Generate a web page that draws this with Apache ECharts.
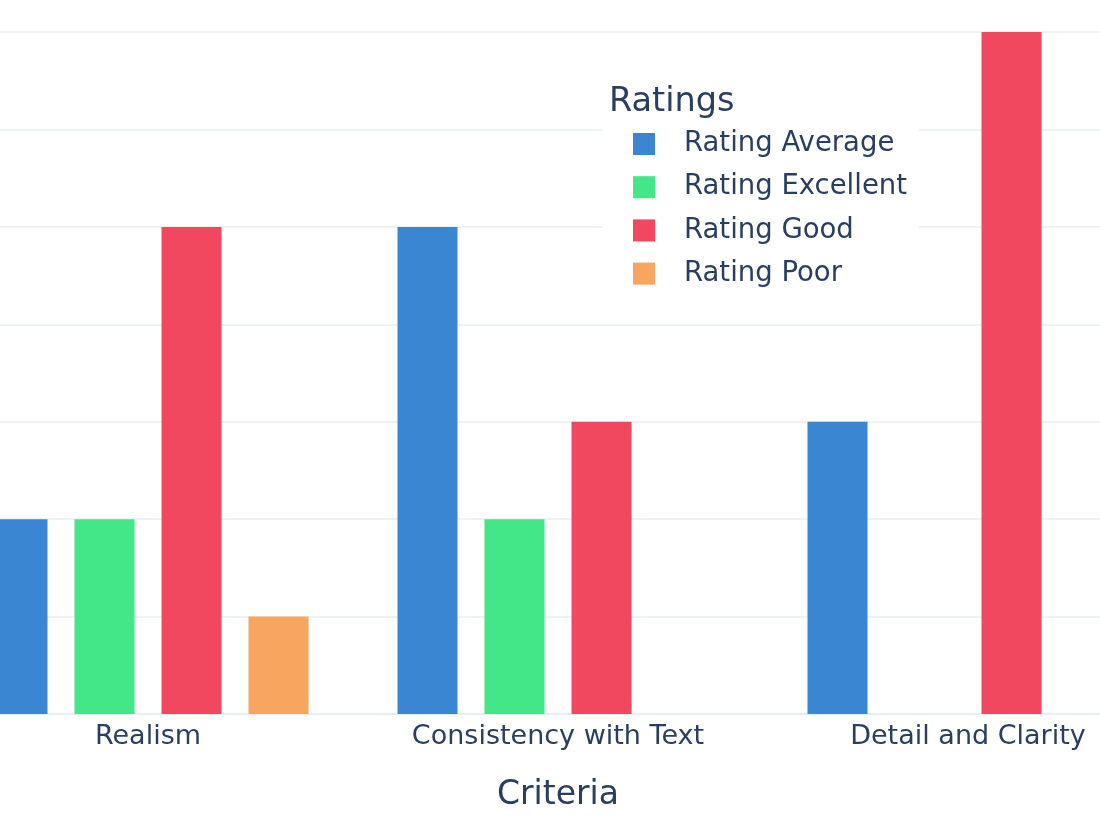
<!DOCTYPE html>
<html>
<head>
<meta charset="utf-8">
<script src="https://cdn.jsdelivr.net/npm/echarts@6/dist/echarts.min.js"></script>
<style>
  html, body { margin: 0; padding: 0; background: #fff; overflow: hidden; }
  /* the plot runs past the window edges, so the chart box is bigger and shifted */
  #main { position: absolute; left: -100px; top: -20px; width: 1300px; height: 865px; }
</style>
</head>
<body>
<div id="main"></div>
<script>
// data
var criteria = ['Realism', 'Consistency with Text', 'Detail and Clarity'];
var ratingAverage = [2, 5, 3];
var ratingExcellent = [2, 2, '-'];
var ratingGood = [5, 3, 7];
var ratingPoor = [1, '-', '-'];
var seriesNames = ['Rating Average', 'Rating Excellent', 'Rating Good', 'Rating Poor'];
var colors = ['#3a86d2', '#43e788', '#f2485f', '#f8a65f'];

var font = 'DejaVu Sans';
var textColor = '#2a3f5f';

var myChart = echarts.init(document.getElementById('main'));

function bar(name, values, color) {
    return {
        name: name,
        type: 'bar',
        data: values,
        barWidth: 60,
        barGap: '45%',
        itemStyle: { color: color },
        emphasis: { disabled: true }
    };
}

var option = {
    backgroundColor: '#fff',
    animation: false,
    color: colors,
    title: {
        text: 'Ratings',
        left: 709,
        top: 105,
        padding: 0,
        z: 10,
        textStyle: { fontFamily: font, fontSize: 33.5, fontWeight: 'normal', color: textColor }
    },
    legend: {
        orient: 'vertical',
        left: 703,
        top: 100,
        padding: [50, 12, 8, 30],
        backgroundColor: '#fff',
        itemWidth: 22,
        itemHeight: 22,
        itemGap: 15.2,
        icon: 'rect',
        data: seriesNames,
        textStyle: {
            fontFamily: font, fontSize: 27.5, color: textColor,
            padding: [0, 0, 0, 24]
        }
    },
    grid: { left: 43, right: 27, top: 16, bottom: 131, containLabel: false },
    xAxis: {
        type: 'category',
        data: criteria,
        name: 'Criteria',
        nameLocation: 'middle',
        nameGap: 64.5,
        nameTextStyle: { fontFamily: font, fontSize: 33, color: textColor },
        axisLine: { show: true, lineStyle: { color: '#e8edf5', width: 2 } },
        axisTick: { show: false },
        axisLabel: { margin: 9, fontFamily: font, fontSize: 27, color: textColor }
    },
    yAxis: {
        type: 'value',
        min: 0,
        max: 7.37,
        interval: 1,
        axisLabel: { show: false },
        axisLine: { show: false },
        axisTick: { show: false },
        splitLine: { lineStyle: { color: '#eff2f8', width: 2 } }
    },
    series: [
        bar(seriesNames[0], ratingAverage, colors[0]),
        bar(seriesNames[1], ratingExcellent, colors[1]),
        bar(seriesNames[2], ratingGood, colors[2]),
        bar(seriesNames[3], ratingPoor, colors[3])
    ]
};

myChart.setOption(option);
</script>
</body>
</html>
